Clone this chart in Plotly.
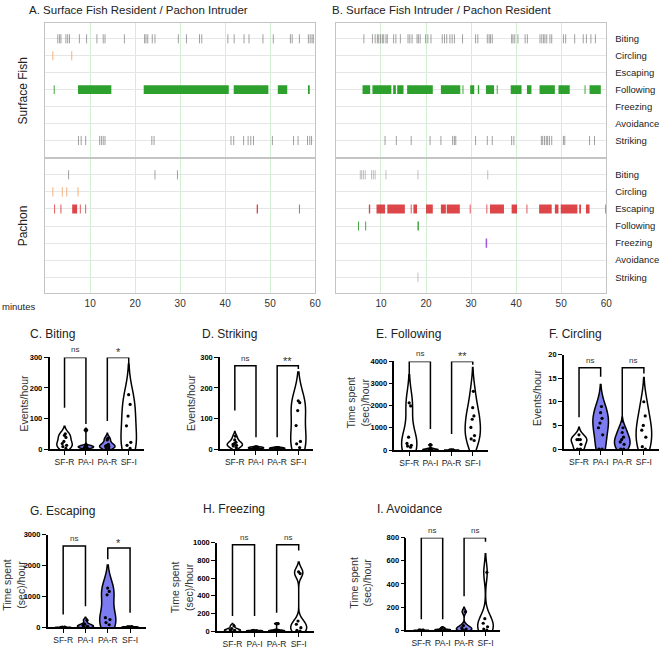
import plotly.graph_objects as go

W, H = 669, 649
FONT = "Liberation Sans, Arial, sans-serif"

# ---------------- Ethogram data (minutes) ----------------
ROWS = ["Biting", "Circling", "Escaping", "Following", "Freezing", "Avoidance", "Striking"]

# Panel A - Surface fish resident
A_sf_biting = [2.8, 3.2, 3.5, 4.6, 5.0, 5.4, 7.6, 9.2, 11.5, 12.9, 13.3, 17.6, 22.1, 22.4, 22.8,
               23.8, 24.4, 29.6, 31.4, 34.3, 34.8, 40.6, 42.0, 44.2, 45.3, 48.4, 50.7, 54.5,
               54.9, 56.5, 58.5, 58.9, 59.3, 59.6]
A_sf_circling = [1.7, 5.9]
A_sf_following = [(1.9, 2.1), (7.3, 14.7), (21.9, 40.8), (41.9, 49.6), (51.7, 53.8), (58.4, 58.8)]
A_sf_striking = [7.4, 8.0, 9.0, 12.1, 12.5, 12.9, 13.3, 23.7, 24.2, 41.3, 41.9, 44.1, 45.1,
                 45.7, 46.3, 50.5, 55.2, 56.2, 58.3, 58.8, 59.2]
# Panel A - Pachon intruder
A_pa_biting = [5.2, 24.4, 29.4]
A_pa_circling = [1.7, 3.8, 4.8, 7.3]
A_pa_escaping = [(2.0, 2.2), (3.4, 3.6), (6.0, 7.1), (7.7, 7.9), (8.9, 9.1), (47.0, 47.3), (56.4, 56.6)]

# Panel B - Surface fish intruder
B_sf_biting = [6.2, 8.1, 8.7, 9.2, 9.5, 9.9, 10.3, 10.6, 11.1, 11.4, 12.8, 13.3, 14.3, 16.0, 16.4,
               16.9, 18.0, 18.3, 18.7, 19.9, 20.4, 21.1, 23.6, 24.1, 24.6, 25.3, 25.8, 26.3, 28.1,
               31.0, 31.5, 33.6, 34.0, 34.3, 34.7, 39.0, 39.3, 39.7, 40.4, 42.0, 42.5, 45.3, 45.7,
               46.1, 46.4, 46.8, 47.5, 47.9, 50.5, 51.0, 53.0, 54.9, 55.6, 56.6, 57.6]
B_sf_following = [(5.9, 7.6), (8.1, 12.3), (12.7, 13.3), (13.6, 15.0), (15.8, 21.5), (23.3, 27.6),
                  (28.1, 28.3), (29.8, 30.7), (31.5, 31.8), (33.3, 35.1), (35.7, 35.9), (38.8, 41.2),
                  (42.4, 43.4), (45.2, 48.6), (49.4, 51.9), (55.2, 55.4), (56.3, 58.8)]
B_sf_striking = [10.9, 13.4, 16.7, 20.9, 23.3, 25.9, 26.3, 26.6, 31.0, 33.6, 34.7, 39.0, 39.5,
                 45.6, 45.9, 46.3, 46.7, 47.0, 47.4, 47.9, 50.5, 50.8, 56.3, 57.4]
# Panel B - Pachon resident
B_pa_biting = [5.4, 5.7, 6.1, 6.5, 7.9, 8.3, 8.7, 11.1, 18.2, 33.7]
B_pa_escaping = [(7.3, 7.6), (9.0, 10.9), (11.4, 15.3), (16.6, 16.8), (17.2, 18.0), (20.0, 21.5),
                 (23.3, 24.4), (24.6, 27.5), (29.7, 29.9), (33.4, 33.6), (34.2, 37.3), (39.0, 40.2),
                 (42.3, 42.5), (45.1, 47.9), (48.6, 49.4), (49.9, 53.6), (54.0, 54.4), (55.5, 56.3),
                 (59.8, 60.0)]
B_pa_following = [(4.9, 5.1), (6.5, 6.7), (18.1, 18.4)]
B_pa_freezing = [33.4]
B_pa_striking = [18.2]

MIN_TICKS = [10, 20, 30, 40, 50, 60]

# ---------------- Violin data ----------------
GROUPS = ["SF-R", "PA-I", "PA-R", "SF-I"]
C_biting = {"SF-R": [2, 8, 12, 18, 25, 38, 45, 50], "PA-I": [2, 4, 6, 7, 8, 10, 12, 62],
            "PA-R": [2, 5, 8, 10, 12, 15, 30, 35], "SF-I": [2, 12, 22, 76, 108, 146, 178]}
D_striking = {"SF-R": [5, 10, 12, 15, 18, 22, 30, 42], "PA-I": [1, 2, 3, 4, 5, 6, 7],
              "PA-R": [0, 1, 2, 3, 4, 5], "SF-I": [5, 17, 25, 77, 126, 152, 158]}
E_following = {"SF-R": [130, 180, 210, 300, 580, 1990, 2130], "PA-I": [0, 5, 10, 20, 40, 60, 230],
               "PA-R": [0, 0, 1, 2, 3, 1, 0], "SF-I": [430, 500, 650, 1020, 1390, 1540, 1910, 2650]}
F_circling = {"SF-R": [0, 0, 1, 2, 2, 2, 3], "PA-I": [0, 0, 3, 4.5, 5.5, 6.5, 7.7, 9],
              "PA-R": [0, 0, 1, 1.5, 2, 2.5, 3.5, 4.5], "SF-I": [0, 0.5, 2.5, 4, 5, 7, 10]}
G_escaping = {"SF-R": [0, 0, 0, 1, 2, 0], "PA-I": [5, 15, 30, 60, 100, 230],
              "PA-R": [80, 150, 250, 310, 1050, 1160, 1270], "SF-I": [0, 5, 10, 15, 20, 8]}
H_freezing = {"SF-R": [0, 5, 10, 15, 30, 60], "PA-I": [0, 2, 4, 6, 8],
              "PA-R": [0, 2, 5, 8, 12, 85], "SF-I": [0, 10, 40, 78, 115, 650, 670]}
I_avoidance = {"SF-R": [0, 0, 0, 1, 0], "PA-I": [0, 2, 4, 6, 20],
               "PA-R": [0, 5, 10, 20, 40, 160], "SF-I": [0, 10, 30, 60, 100, 500]}

# brackets: (group1, group2, top, leg1 bottom, leg2 bottom, label)
C_br = [("SF-R", "PA-I", 300, 135, 82, "ns"), ("PA-R", "SF-I", 300, 92, 270, "*")]
D_br = [("SF-R", "PA-I", 273, 126, 39, "ns"), ("PA-R", "SF-I", 273, 39, 262, "**")]
E_br = [("SF-R", "PA-I", 4000, 3300, 950, "ns"), ("PA-R", "SF-I", 4000, 725, 3850, "**")]
F_br = [("SF-R", "PA-I", 17.2, 6.7, 15.3, "ns"), ("PA-R", "SF-I", 17.2, 5.6, 16, "ns")]
G_br = [("SF-R", "PA-I", 2630, 415, 680, "ns"), ("PA-R", "SF-I", 2565, 2200, 470, "*")]
H_br = [("SF-R", "PA-I", 975, 170, 170, "ns"), ("PA-R", "SF-I", 975, 207, 910, "ns")]
I_br = [("SF-R", "PA-I", 800, 94, 94, "ns"), ("PA-R", "SF-I", 800, 293, 764, "ns")]

# ---------------- helpers ----------------
def fx(p):
    return p / W

def fy(p):
    return 1 - p / H

fig = go.Figure()
layout = dict(width=W, height=H, margin=dict(l=0, r=0, t=0, b=0), showlegend=False,
              plot_bgcolor="white", paper_bgcolor="white", barmode="overlay",
              font=dict(family=FONT, color="#222"))
annotations = []

def ax_names(i):
    return ("x" if i == 1 else f"x{i}"), ("y" if i == 1 else f"y{i}")

def row_of(name):
    return ROWS.index(name) + 1

def add_ticks(i, times, name, color, width=1.0):
    xa, ya = ax_names(i)
    r = row_of(name)
    xs, ys = [], []
    for t in times:
        xs += [t, t, None]
        ys += [r - 0.27, r + 0.27, None]
    fig.add_trace(go.Scatter(x=xs, y=ys, mode="lines", line=dict(color=color, width=width),
                             xaxis=xa, yaxis=ya, hoverinfo="skip"))

def add_segs(i, segs, name, color):
    xa, ya = ax_names(i)
    r = row_of(name)
    fig.add_trace(go.Bar(base=[s for s, e in segs], x=[e - s for s, e in segs],
                         y=[r] * len(segs), orientation="h", width=0.52,
                         marker=dict(color=color, line=dict(width=0)),
                         xaxis=xa, yaxis=ya, hoverinfo="skip"))

GRAY = "rgba(110,110,110,0.65)"
LGRAY = "rgba(140,140,140,0.55)"
ORANGE = "rgba(245,170,110,0.9)"
GREEN = "rgba(34,155,34,0.95)"
RED = "rgba(214,30,34,0.82)"
PURPLE = "rgba(150,80,220,0.95)"

def etho_axes(i, xdom, ydom, labels_right, show_x):
    xa, ya = ax_names(i)
    layout["xaxis" + xa[1:]] = dict(domain=[fx(xdom[0]), fx(xdom[1])], anchor=ya, range=[0, 60],
                                    tickvals=MIN_TICKS, showticklabels=show_x, ticks="",
                                    showgrid=True, gridcolor="rgba(175,225,175,0.55)", gridwidth=1,
                                    zeroline=False, showline=True, mirror=True,
                                    linecolor="#c4c4c4", linewidth=1.2,
                                    tickfont=dict(size=10, color="#333"))
    layout["yaxis" + ya[1:]] = dict(domain=[fy(ydom[1]), fy(ydom[0])], anchor=xa, range=[7.95, 0.05],
                                    tickvals=list(range(1, 8)), ticktext=ROWS,
                                    showticklabels=labels_right, side="right", ticks="outside",
                                    ticklen=6, tickcolor="rgba(0,0,0,0)",
                                    showgrid=True, gridcolor="#e6e6e6", zeroline=False,
                                    showline=True, mirror=True, linecolor="#c4c4c4", linewidth=1.2,
                                    tickfont=dict(size=9.5, color="#222"))

# Panel A upper (1), A lower (2), B upper (3), B lower (4)
etho_axes(1, (45.6, 318), (19, 155), False, False)
etho_axes(2, (45.6, 318), (157, 294), False, True)
etho_axes(3, (339, 611.7), (19, 155), True, False)
etho_axes(4, (339, 611.7), (157, 294), True, True)

add_ticks(1, A_sf_biting, "Biting", GRAY)
add_ticks(1, A_sf_circling, "Circling", ORANGE)
add_segs(1, A_sf_following, "Following", GREEN)
add_ticks(1, A_sf_striking, "Striking", GRAY)
add_ticks(2, A_pa_biting, "Biting", GRAY)
add_ticks(2, A_pa_circling, "Circling", ORANGE)
add_segs(2, A_pa_escaping, "Escaping", RED)

add_ticks(3, B_sf_biting, "Biting", GRAY)
add_segs(3, B_sf_following, "Following", GREEN)
add_ticks(3, B_sf_striking, "Striking", GRAY)
add_ticks(4, B_pa_biting, "Biting", LGRAY)
add_segs(4, B_pa_escaping, "Escaping", RED)
add_segs(4, B_pa_following, "Following", GREEN)
add_ticks(4, B_pa_freezing, "Freezing", PURPLE, 1.5)
add_ticks(4, B_pa_striking, "Striking", LGRAY)

def text(x, y, s, size=11, xanchor="left", angle=0, color="#222", weight="normal"):
    annotations.append(dict(x=fx(x), y=fy(y), xref="paper", yref="paper", text=s, showarrow=False,
                            xanchor=xanchor, yanchor="middle", textangle=angle,
                            font=dict(size=size, color=color, family=FONT, weight=weight)))

text(27, 6, "A. Surface Fish Resident / Pachon Intruder", 11.5)
text(333, 6, "B. Surface Fish Intruder / Pachon Resident", 11.5)
text(23, 88, "Surface Fish", 12, "center", -90)
text(23, 225, "Pachon", 12, "center", -90)
text(0, 307, "minutes", 9.5)

# ---------------- violins ----------------
PA_FILL = "rgb(124,124,240)"
# optional kernel bandwidths for groups with widely separated values
BW = {("H", "SF-I"): 55, ("I", "SF-I"): 80}

def violin_panel(i, key, data, brackets, ymax, yticks, xdom, ydom, title, title_xy, ylabel, ylabel_xy):
    xa, ya = ax_names(i)
    for k, g in enumerate(GROUPS):
        vals = data[g]
        fill = PA_FILL if g.startswith("PA") else "white"
        extra = {}
        if (key, g) in BW:
            extra["bandwidth"] = BW[(key, g)]
        fig.add_trace(go.Violin(x=[k] * len(vals), y=vals, xaxis=xa, yaxis=ya,
                                fillcolor=fill, line=dict(color="black", width=1.5),
                                points="all", pointpos=0, jitter=0.35,
                                marker=dict(color="black", size=3.2),
                                width=0.72, scalemode="width", box_visible=False,
                                meanline_visible=False, hoverinfo="skip", spanmode="soft", **extra))
    for g1, g2, top, l1, l2, lab in brackets:
        a, b = GROUPS.index(g1), GROUPS.index(g2)
        fig.add_trace(go.Scatter(x=[a, a, b, b], y=[l1, top, top, l2], mode="lines",
                                 line=dict(color="black", width=1.5), cliponaxis=False,
                                 xaxis=xa, yaxis=ya, hoverinfo="skip"))
        annotations.append(dict(x=(a + b) / 2, y=top, xref=xa, yref=ya, text=lab, showarrow=False,
                                yanchor="bottom", yshift=1 if lab == "ns" else -3,
                                font=dict(size=8 if lab == "ns" else 11, color="#333", family=FONT)))
    layout["xaxis" + xa[1:]] = dict(domain=[fx(xdom[0]), fx(xdom[1])], anchor=ya, range=[-0.7, 3.7],
                                    tickvals=list(range(4)), ticktext=GROUPS, ticks="outside",
                                    ticklen=4, tickwidth=1.3, tickcolor="black", showline=True,
                                    linecolor="black", linewidth=1.5, showgrid=False, zeroline=False,
                                    tickfont=dict(size=8.5, color="#222"))
    layout["yaxis" + ya[1:]] = dict(domain=[fy(ydom[1]), fy(ydom[0])], anchor=xa, range=[0, ymax],
                                    tickvals=yticks, ticks="outside", ticklen=4, tickwidth=1.3,
                                    tickcolor="black", showline=True, linecolor="black",
                                    linewidth=1.5, showgrid=False, zeroline=False,
                                    tickfont=dict(size=7.5, color="black", weight="bold"))
    text(title_xy[0], title_xy[1], title, 12)
    text(ylabel_xy[0], ylabel_xy[1], ylabel, 10.5, "center", -90, "#333")

violin_panel(5, "C", C_biting, C_br, 300, [0, 100, 200, 300], (50, 145), (359, 452),
             "C. Biting", (28, 335), "Events/hour", (24, 405))
violin_panel(6, "D", D_striking, D_br, 300, [0, 100, 200, 300], (222, 316), (359, 452),
             "D. Striking", (202, 335), "Events/hour", (192, 405))
violin_panel(7, "E", E_following, E_br, 4000, [0, 1000, 2000, 3000, 4000], (398, 492), (363, 453),
             "E. Following", (377, 335), "Time spent<br>(sec)/hour", (361, 405))
violin_panel(8, "F", F_circling, F_br, 20, [0, 5, 10, 15, 20], (569, 665), (356, 452),
             "F. Circling", (552, 335), "Events/hour", (542, 400))
violin_panel(9, "G", G_escaping, G_br, 3000, [0, 1000, 2000, 3000], (48, 147), (539, 633),
             "G. Escaping", (28, 515), "Time spent<br>(sec)/hour", (14, 590))
violin_panel(10, "H", H_freezing, H_br, 1000, [0, 200, 400, 600, 800, 1000], (219, 317), (547, 637),
             "H. Freezing", (203, 513), "Time spent<br>(sec)/hour", (184, 592))
violin_panel(11, "I", I_avoidance, I_br, 800, [0, 200, 400, 600, 800], (410, 505), (542, 636),
             "I. Avoidance", (378, 513), "Time spent<br>(sec)/hour", (364, 588))

layout["annotations"] = annotations
fig.update_layout(**layout)
fig.write_html("out.html", config={"displayModeBar": False},
               post_script="document.body.style.margin='0px';document.body.style.overflow='hidden';")
